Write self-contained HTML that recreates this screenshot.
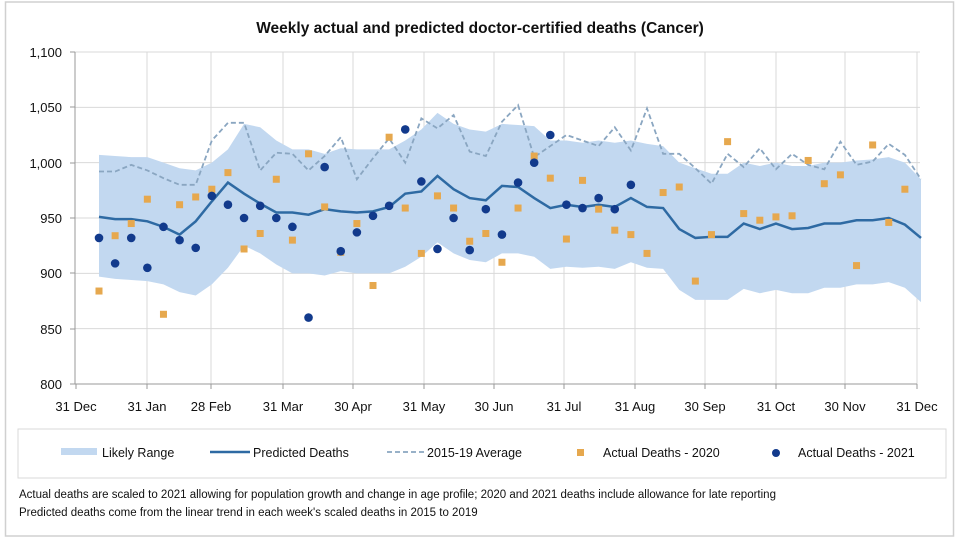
<!DOCTYPE html>
<html><head><meta charset="utf-8"><style>
body{margin:0;background:#fff;}
svg text{font-family:"Liberation Sans",sans-serif;fill:#111;}
</style></head><body>
<svg id="s" width="960" height="537" viewBox="0 0 960 537" xmlns="http://www.w3.org/2000/svg">
<rect x="5.5" y="2" width="948" height="534" fill="#fff" stroke="#d0d0d0" stroke-width="1.5"/>
<text x="480" y="33" text-anchor="middle" font-size="15.5" font-weight="bold">Weekly actual and predicted doctor-certified deaths (Cancer)</text>
<g id="grid" stroke="#d9d9d9" stroke-width="1"></g>
<g id="series"></g>
<g font-size="13" text-anchor="end">
<text x="62" y="57">1,100</text><text x="62" y="112">1,050</text><text x="62" y="168">1,000</text>
<text x="62" y="223">950</text><text x="62" y="278">900</text><text x="62" y="334">850</text><text x="62" y="389">800</text>
</g>
<g font-size="13" text-anchor="middle">
<text x="76" y="411">31 Dec</text><text x="147" y="411">31 Jan</text><text x="211" y="411">28 Feb</text>
<text x="283" y="411">31 Mar</text><text x="353" y="411">30 Apr</text><text x="424" y="411">31 May</text>
<text x="494" y="411">30 Jun</text><text x="564" y="411">31 Jul</text><text x="635" y="411">31 Aug</text>
<text x="705" y="411">30 Sep</text><text x="776" y="411">31 Oct</text><text x="845" y="411">30 Nov</text><text x="917" y="411">31 Dec</text>
</g>
<rect x="18" y="429" width="928" height="49" fill="#fff" stroke="#d9d9d9"/>
<rect x="61" y="448" width="36" height="7" fill="#c2d8f0"/>
<text x="102" y="457" font-size="12.5">Likely Range</text>
<line x1="210" y1="452" x2="250" y2="452" stroke="#2e6aa3" stroke-width="2.5"/>
<text x="253" y="457" font-size="12.5">Predicted Deaths</text>
<line x1="387" y1="452" x2="424" y2="452" stroke="#8aa6c1" stroke-width="1.8" stroke-dasharray="5,3"/>
<text x="427" y="457" font-size="12.5">2015-19 Average</text>
<rect x="577" y="449" width="7" height="7" fill="#e6a84e"/>
<text x="603" y="457" font-size="12.5">Actual Deaths - 2020</text>
<circle cx="776" cy="453" r="4" fill="#123a8c"/>
<text x="798" y="457" font-size="12.5">Actual Deaths - 2021</text>
<text x="19" y="498" font-size="11.5">Actual deaths are scaled to 2021 allowing for population growth and change in age profile; 2020 and 2021 deaths include allowance for late reporting</text>
<text x="19" y="516" font-size="11.5">Predicted deaths come from the linear trend in each week's scaled deaths in 2015 to 2019</text>
</svg>
<script>
const NS="http://www.w3.org/2000/svg";
const Y=v=>384-(v-800)*332/300, X=i=>99+i*(822/51);
function el(p,t,a){const e=document.createElementNS(NS,t);for(const k in a)e.setAttribute(k,a[k]);p.appendChild(e);return e;}
const g=document.getElementById('grid'), s=document.getElementById('series');
[1050,1000,950,900,850,1100].forEach(v=>el(g,'line',{x1:75,x2:920,y1:Y(v),y2:Y(v)}));
[147,211,283,353,424,494,564,635,705,776,845,917].forEach(x=>el(g,'line',{x1:x,x2:x,y1:52,y2:384}));
el(g,'line',{x1:75,x2:75,y1:52,y2:384,stroke:'#999'});
el(g,'line',{x1:75,x2:917,y1:384,y2:384,stroke:'#999'});
[76,147,211,283,353,424,494,564,635,705,776,845,917].forEach(x=>el(g,'line',{x1:x,x2:x,y1:384,y2:389,stroke:'#999'}));
[52,107,163,218,273,329,384].forEach(y=>el(g,'line',{x1:70,x2:75,y1:y,y2:y,stroke:'#999'}));
const pred=[951,949,949,947,942,935,947,965,982,972,963,955,955,953,958,956,955,956,960,972,974,988,976,968,966,979,978,968,959,962,960,962,960,968,960,959,940,932,933,933,945,940,945,940,941,945,945,948,948,950,944,932];
const up=[1007,1006,1005,1005,1000,995,993,1000,1012,1035,1032,1020,1012,1012,1008,1013,1012,1012,1012,1020,1030,1045,1035,1030,1028,1035,1034,1033,1020,1020,1018,1020,1018,1020,1017,1015,1000,995,990,990,1000,997,1000,997,997,1000,1000,1002,1003,1005,1000,985];
const lo=[897,895,894,893,890,883,880,890,905,925,918,908,900,900,898,902,900,900,900,906,915,928,918,912,910,918,918,915,904,906,905,906,904,910,905,904,885,876,876,876,886,882,885,882,882,887,887,890,890,892,887,874];
const avg=[992,992,998,993,986,980,980,1020,1036,1036,993,1009,1008,993,1006,1023,985,1004,1022,1000,1040,1031,1043,1010,1006,1037,1052,1005,1015,1025,1020,1015,1032,1011,1049,1008,1008,995,981,1008,996,1013,994,1008,998,994,1019,998,1001,1017,1007,985];
const a20=[884,934,945,967,863,962,969,976,991,922,936,985,930,1008,960,919,945,889,1023,959,918,970,959,929,936,910,959,1006,986,931,984,958,939,935,918,973,978,893,935,1019,954,948,951,952,1002,981,989,907,1016,946,976];
const a21=[932,909,932,905,942,930,923,970,962,950,961,950,942,860,996,920,937,952,961,1030,983,922,950,921,958,935,982,1000,1025,962,959,968,958,980];
let d='M'+up.map((v,i)=>X(i)+','+Y(v)).join('L')+'L'+lo.map((v,i)=>X(i)+','+Y(v)).reverse().join('L')+'Z';
el(s,'path',{d:d,fill:'#c2d8f0'});
el(s,'polyline',{points:avg.map((v,i)=>X(i)+','+Y(v)).join(' '),fill:'none',stroke:'#8aa6c1','stroke-width':1.8,'stroke-dasharray':'5,3'});
el(s,'polyline',{points:pred.map((v,i)=>X(i)+','+Y(v)).join(' '),fill:'none',stroke:'#2e6aa3','stroke-width':2.5});
a20.forEach((v,i)=>el(s,'rect',{x:X(i)-3.5,y:Y(v)-3.5,width:7,height:7,fill:'#e6a84e'}));
a21.forEach((v,i)=>el(s,'circle',{cx:X(i),cy:Y(v),r:4.3,fill:'#123a8c'}));
</script>
</body></html>
